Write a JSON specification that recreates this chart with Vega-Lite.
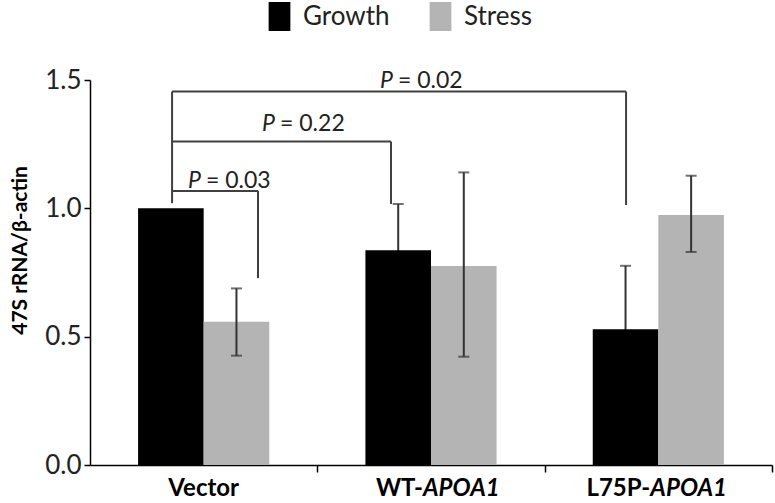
{
  "$schema": "https://vega.github.io/schema/vega-lite/v6.json",
  "width": 682,
  "height": 385,
  "autosize": {"type": "none"},
  "padding": {"left": 90, "top": 80, "right": 3, "bottom": 38},
  "background": "white",
  "config": {"font": "Lato", "view": {"stroke": null}, "axis": {"grid": false}, "axisY": {"titleY": 170, "titleAnchor": "middle"}},
  "datasets": {
    "bars": [
      {"group": "Vector", "cond": "Growth", "value": 1.0},
      {"group": "Vector", "cond": "Stress", "value": 0.558, "lo": 0.426, "hi": 0.688},
      {"group": "WT-APOA1", "cond": "Growth", "value": 0.837, "lo": 0.658, "hi": 1.017},
      {"group": "WT-APOA1", "cond": "Stress", "value": 0.775, "lo": 0.422, "hi": 1.14},
      {"group": "L75P-APOA1", "cond": "Growth", "value": 0.529, "lo": 0.282, "hi": 0.776},
      {"group": "L75P-APOA1", "cond": "Stress", "value": 0.974, "lo": 0.83, "hi": 1.127}
    ],
    "labels": [
      {"group": "Vector", "pre": "Vector", "suf": ""},
      {"group": "WT-APOA1", "pre": "WT-", "suf": "APOA1"},
      {"group": "L75P-APOA1", "pre": "L75P-", "suf": "APOA1"}
    ],
    "brackets": [
      {"x": 0.361, "x2": 0.361, "y": 1.02, "y2": 1.455},
      {"x": 0.361, "x2": 0.739, "y": 1.068, "y2": 1.068},
      {"x": 0.739, "x2": 0.739, "y": 0.728, "y2": 1.068},
      {"x": 0.361, "x2": 1.324, "y": 1.26, "y2": 1.26},
      {"x": 1.324, "x2": 1.324, "y": 1.017, "y2": 1.26},
      {"x": 0.361, "x2": 2.358, "y": 1.455, "y2": 1.455},
      {"x": 2.358, "x2": 2.358, "y": 1.013, "y2": 1.455}
    ],
    "pvals": [
      {"x": 0.488, "y": 1.079, "rest": "= 0.03"},
      {"x": 0.814, "y": 1.301, "rest": "= 0.22"},
      {"x": 1.333, "y": 1.469, "rest": "= 0.02"}
    ]
  },
  "layer": [
    {
      "encoding": {
        "x": {
          "field": "group",
          "type": "nominal",
          "sort": ["Vector", "WT-APOA1", "L75P-APOA1"],
          "scale": {"paddingInner": 0.423, "paddingOuter": 0.2115},
          "axis": {"title": null, "labels": false, "ticks": false, "domainColor": "#000", "domainWidth": 1.5}
        }
      },
      "layer": [
        {
          "data": {"name": "bars"},
          "transform": [{"filter": "isValid(datum.lo) && datum.cond === 'Growth'"}],
          "mark": {"type": "rule", "color": "#333", "strokeWidth": 2},
          "encoding": {
            "xOffset": {"field": "cond", "type": "nominal", "scale": {"domain": ["Growth", "Stress"], "paddingInner": 0, "paddingOuter": 0}},
            "y": {"field": "lo", "type": "quantitative", "title": "47S rRNA/β-actin"},
            "y2": {"field": "hi"}
          }
        },
        {
          "data": {"name": "bars"},
          "transform": [{"filter": "isValid(datum.hi) && datum.cond === 'Growth'"}],
          "mark": {"type": "tick", "color": "#333", "thickness": 2, "size": 11, "orient": "horizontal"},
          "encoding": {
            "xOffset": {"field": "cond", "type": "nominal"},
            "y": {"field": "hi", "type": "quantitative", "title": "47S rRNA/β-actin"}
          }
        },
        {
          "data": {"name": "bars"},
          "mark": {"type": "bar"},
          "encoding": {
            "xOffset": {"field": "cond", "type": "nominal"},
            "y": {
              "field": "value",
              "type": "quantitative",
              "title": "47S rRNA/β-actin",
              "scale": {"domain": [0, 1.5], "nice": false},
              "axis": {
                "values": [0, 0.5, 1, 1.5],
                "format": ".1f",
                "labelFontSize": 26,
                "labelColor": "#222",
                "labelPadding": 3,
                "tickSize": 6,
                "tickColor": "#000",
                "tickWidth": 1.5,
                "domainColor": "#000",
                "domainWidth": 1.5,
                "titleFontSize": 21,
                "titleFontWeight": "bold",
                "titleColor": "#000",
                "titlePadding": 14
              }
            },
            "color": {
              "field": "cond",
              "type": "nominal",
              "scale": {"domain": ["Growth", "Stress"], "range": ["#000000", "#b4b4b4"]},
              "legend": {
                "title": null,
                "orient": "none",
                "legendX": 175,
                "legendY": -78,
                "direction": "horizontal",
                "symbolType": "M-0.75,-1H0.75V1H-0.75Z",
                "symbolSize": 841,
                "symbolStrokeWidth": 0,
                "labelFontSize": 26,
                "labelFont": "Lato",
                "labelColor": "#222",
                "labelOffset": 9,
                "columnPadding": 36,
                "padding": 0
              }
            }
          }
        },
        {
          "data": {"name": "bars"},
          "transform": [{"filter": "isValid(datum.lo) && datum.cond === 'Stress'"}],
          "mark": {"type": "rule", "color": "#333", "strokeWidth": 2},
          "encoding": {
            "xOffset": {"field": "cond", "type": "nominal"},
            "y": {"field": "lo", "type": "quantitative", "title": "47S rRNA/β-actin"},
            "y2": {"field": "hi"}
          }
        },
        {
          "data": {"name": "bars"},
          "transform": [{"filter": "isValid(datum.lo) && datum.cond === 'Stress'"}],
          "mark": {"type": "tick", "color": "#333", "thickness": 2, "size": 11, "orient": "horizontal"},
          "encoding": {
            "xOffset": {"field": "cond", "type": "nominal"},
            "y": {"field": "lo", "type": "quantitative", "title": "47S rRNA/β-actin"}
          }
        },
        {
          "data": {"name": "bars"},
          "transform": [{"filter": "isValid(datum.hi) && datum.cond === 'Stress'"}],
          "mark": {"type": "tick", "color": "#333", "thickness": 2, "size": 11, "orient": "horizontal"},
          "encoding": {
            "xOffset": {"field": "cond", "type": "nominal"},
            "y": {"field": "hi", "type": "quantitative", "title": "47S rRNA/β-actin"}
          }
        },
        {
          "data": {"name": "labels"},
          "transform": [{"filter": "datum.suf === ''"}],
          "mark": {"type": "text", "fontSize": 24, "fontWeight": "bold", "baseline": "alphabetic", "align": "center", "dy": 31, "color": "#000"},
          "encoding": {
            "y": {"datum": 0, "type": "quantitative"},
            "text": {"field": "pre"}
          }
        },
        {
          "data": {"name": "labels"},
          "transform": [{"filter": "datum.suf !== ''"}],
          "mark": {"type": "text", "fontSize": 24, "fontWeight": "bold", "baseline": "alphabetic", "align": "right", "dx": -8, "dy": 31, "color": "#000"},
          "encoding": {
            "y": {"datum": 0, "type": "quantitative"},
            "text": {"field": "pre"}
          }
        },
        {
          "data": {"name": "labels"},
          "transform": [{"filter": "datum.suf !== ''"}],
          "mark": {"type": "text", "fontSize": 24, "fontWeight": "bold", "fontStyle": "italic", "baseline": "alphabetic", "align": "left", "dx": -8, "dy": 31, "color": "#000"},
          "encoding": {
            "y": {"datum": 0, "type": "quantitative"},
            "text": {"field": "suf"}
          }
        }
      ]
    },
    {
      "layer": [
        {
          "data": {"name": "brackets"},
          "mark": {"type": "rule", "color": "#404040", "strokeWidth": 2},
          "encoding": {
            "x": {
              "field": "x",
              "type": "quantitative",
              "scale": {"domain": [0, 3], "nice": false, "zero": false},
              "axis": {"orient": "bottom", "values": [1, 2, 3], "labels": false, "title": null, "domain": false, "grid": false, "tickSize": 7, "tickColor": "#000", "tickWidth": 1.5}
            },
            "x2": {"field": "x2"},
            "y": {"field": "y", "type": "quantitative", "title": "47S rRNA/β-actin"},
            "y2": {"field": "y2"}
          }
        },
        {
          "data": {"name": "pvals"},
          "mark": {"type": "text", "text": "P", "fontStyle": "italic", "align": "right", "baseline": "alphabetic", "fontSize": 23, "color": "#222"},
          "encoding": {
            "x": {"field": "x", "type": "quantitative"},
            "y": {"field": "y", "type": "quantitative", "title": "47S rRNA/β-actin"}
          }
        },
        {
          "data": {"name": "pvals"},
          "mark": {"type": "text", "align": "left", "dx": 5, "baseline": "alphabetic", "fontSize": 23, "color": "#222"},
          "encoding": {
            "x": {"field": "x", "type": "quantitative"},
            "y": {"field": "y", "type": "quantitative", "title": "47S rRNA/β-actin"},
            "text": {"field": "rest"}
          }
        }
      ]
    }
  ],
  "resolve": {"scale": {"x": "independent"}, "axis": {"x": "independent"}}
}
